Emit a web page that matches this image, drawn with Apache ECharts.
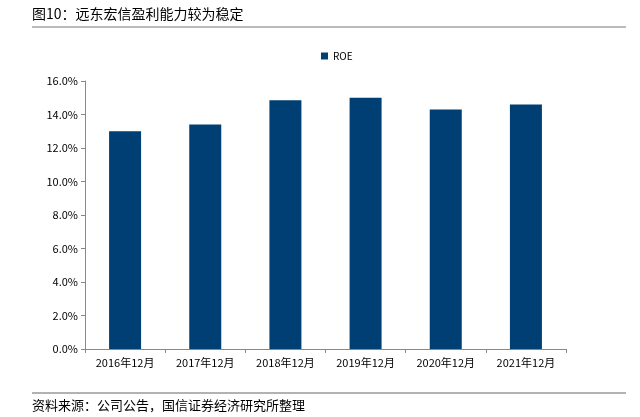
<!DOCTYPE html>
<html><head><meta charset="utf-8">
<script src="https://cdn.jsdelivr.net/npm/echarts@6/dist/echarts.min.js"></script>
<style>html,body{margin:0;padding:0;background:#fff}#c{width:640px;height:417px}</style>
</head><body><div id="c"></div>
<script>
var categories = ['2016年12月','2017年12月','2018年12月','2019年12月','2020年12月','2021年12月'];
var roe = [13.0, 13.4, 14.85, 15.0, 14.3, 14.6];
var seriesName = 'ROE';
var titleText = '图10：远东宏信盈利能力较为稳定';
var sourceText = '资料来源：公司公告，国信证券经济研究所整理';

var chart = echarts.init(document.getElementById('c'));
var font = '"Noto Sans CJK SC", sans-serif';
chart.setOption({
  animation: false,
  backgroundColor: '#fff',
  graphic: [
    {type:'text', left: 32, top: 7, style:{text: titleText, font: '14px ' + font, fill:'#000'}},
    {type:'line', shape:{x1:32,y1:27,x2:626,y2:27}, style:{stroke:'#bbbbbb', lineWidth:2}},
    {type:'line', shape:{x1:32,y1:393,x2:626,y2:393}, style:{stroke:'#999999', lineWidth:1.5}},
    {type:'text', left: 32, top: 399, style:{text: sourceText, font: '13px ' + font, fill:'#000'}}
  ],
  legend: {
    top: 46, left: 316,
    itemWidth: 7, itemHeight: 7, itemGap: 4,
    icon: 'rect',
    textStyle: {fontSize: 10, fontFamily: font, color:'#000'},
    data: [seriesName]
  },
  grid: {left: 85, right: 74, top: 81, bottom: 68},
  xAxis: {
    type: 'category', data: categories,
    axisLine: {lineStyle:{color:'#888'}},
    axisTick: {show:true, alignWithLabel:false, length:4, lineStyle:{color:'#888'}},
    axisLabel: {fontSize: 11, fontFamily: font, color:'#000', margin: 8}
  },
  yAxis: {
    type: 'value', min: 0, max: 16, interval: 2,
    axisLine: {show:true, lineStyle:{color:'#888'}},
    axisTick: {show:true, length:4, lineStyle:{color:'#888'}},
    splitLine: {show:false},
    axisLabel: {fontSize: 11, fontFamily: font, color:'#000', margin: 7,
      formatter: function(v){ return v.toFixed(1) + '%'; }}
  },
  series: [{
    name: seriesName, type: 'bar', data: roe, barWidth: 32,
    itemStyle: {color: '#003F73'}
  }]
});
</script></body></html>
